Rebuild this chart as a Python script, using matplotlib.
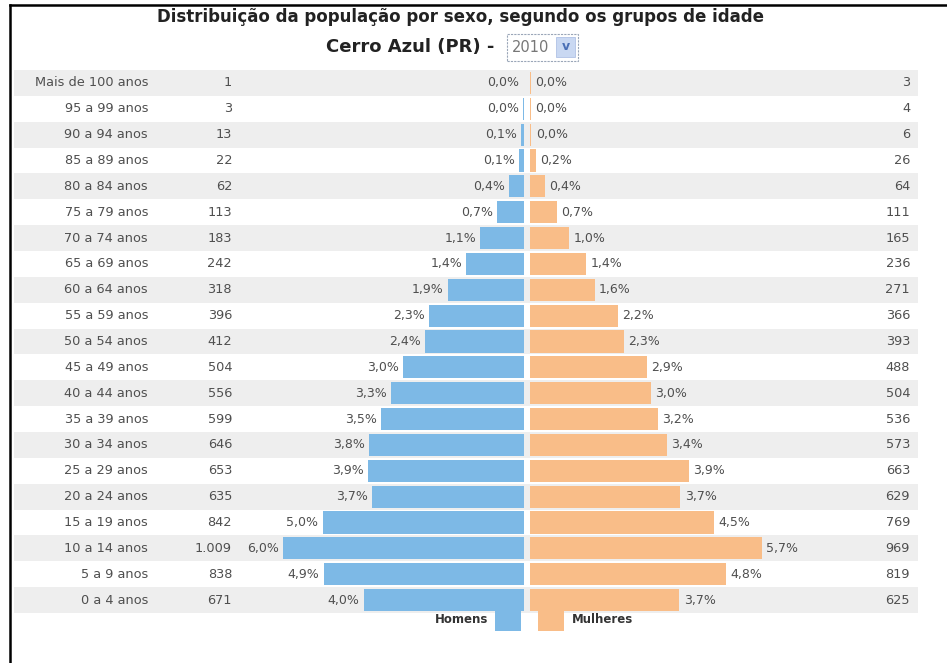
import matplotlib
matplotlib.use("Agg")
import matplotlib.pyplot as plt
from matplotlib.patches import Rectangle
from matplotlib.lines import Line2D

# ---------------- data ----------------
age_groups = ["Mais de 100 anos", "95 a 99 anos", "90 a 94 anos", "85 a 89 anos",
              "80 a 84 anos", "75 a 79 anos", "70 a 74 anos", "65 a 69 anos",
              "60 a 64 anos", "55 a 59 anos", "50 a 54 anos", "45 a 49 anos",
              "40 a 44 anos", "35 a 39 anos", "30 a 34 anos", "25 a 29 anos",
              "20 a 24 anos", "15 a 19 anos", "10 a 14 anos", "5 a 9 anos", "0 a 4 anos"]
men_counts = [1, 3, 13, 22, 62, 113, 183, 242, 318, 396, 412, 504, 556, 599,
              646, 653, 635, 842, 1009, 838, 671]
women_counts = [3, 4, 6, 26, 64, 111, 165, 236, 271, 366, 393, 488, 504, 536,
                573, 663, 629, 769, 969, 819, 625]
men_pct_labels = ["0,0%", "0,0%", "0,1%", "0,1%", "0,4%", "0,7%", "1,1%", "1,4%",
                  "1,9%", "2,3%", "2,4%", "3,0%", "3,3%", "3,5%", "3,8%", "3,9%",
                  "3,7%", "5,0%", "6,0%", "4,9%", "4,0%"]
women_pct_labels = ["0,0%", "0,0%", "0,0%", "0,2%", "0,4%", "0,7%", "1,0%", "1,4%",
                    "1,6%", "2,2%", "2,3%", "2,9%", "3,0%", "3,2%", "3,4%", "3,9%",
                    "3,7%", "4,5%", "5,7%", "4,8%", "3,7%"]
men_count_labels = ["1", "3", "13", "22", "62", "113", "183", "242", "318", "396",
                    "412", "504", "556", "599", "646", "653", "635", "842", "1.009",
                    "838", "671"]
title_line1 = "Distribuição da população por sexo, segundo os grupos de idade"
title_line2 = "Cerro Azul (PR) - "
year_label = "2010"
legend_labels = ["Homens", "Mulheres"]

# ---------------- style ----------------
W, H = 947, 663
BLUE = "#7db9e6"
ORANGE = "#f9bd88"
BAND = "#eeeeee"
TXT = "#4f4f4f"
half_gap = 0.075   # % units, white gap at the centre
bar_h = 0.86
LBL_FS = 9.3
PCT_FS = 9.0

total = sum(men_counts) + sum(women_counts)
men_pct = [c / total * 100 for c in men_counts]
women_pct = [c / total * 100 for c in women_counts]

fig = plt.figure(figsize=(W / 100, H / 100), dpi=100)
fig.patch.set_facecolor("white")

def fx(px):
    return px / W

def fy(py):
    return 1 - py / H

# axes spanning the row band area
ax_l, ax_r, ax_t, ax_b = 14, 918, 70, 613
ax = fig.add_axes([fx(ax_l), fy(ax_b), (ax_r - ax_l) / W, (ax_b - ax_t) / H])
px_per_pct = 40.5
centre_px = 527
ax.set_xlim((ax_l - centre_px) / px_per_pct, (ax_r - centre_px) / px_per_pct)
n = len(age_groups)
ax.set_ylim(n - 0.5, -0.5)
ax.axis("off")

ys = list(range(n))
for i in ys:
    if i % 2 == 0:
        ax.axhspan(i - 0.5, i + 0.5, color=BAND, lw=0, zorder=0)

ax.barh(ys, [-v for v in men_pct], left=-half_gap, height=bar_h, color=BLUE, zorder=2)
ax.barh(ys, women_pct, left=half_gap, height=bar_h, color=ORANGE, zorder=2)

for i in ys:
    ax.annotate(men_pct_labels[i], xy=(-half_gap - men_pct[i], i), xytext=(-3, 0),
                textcoords="offset points", ha="right", va="center",
                fontsize=PCT_FS, color=TXT, zorder=3)
    ax.annotate(women_pct_labels[i], xy=(half_gap + women_pct[i], i), xytext=(3, 0),
                textcoords="offset points", ha="left", va="center",
                fontsize=PCT_FS, color=TXT, zorder=3)

tr = ax.get_yaxis_transform()  # x in axes fraction, y in data
for i in ys:
    ax.text((148 - ax_l) / (ax_r - ax_l), i, age_groups[i], transform=tr,
            ha="right", va="center", fontsize=LBL_FS, color=TXT)
    ax.text((232 - ax_l) / (ax_r - ax_l), i, men_count_labels[i], transform=tr,
            ha="right", va="center", fontsize=LBL_FS, color=TXT)
    ax.text((910 - ax_l) / (ax_r - ax_l), i, str(women_counts[i]), transform=tr,
            ha="right", va="center", fontsize=LBL_FS, color=TXT)

# titles
fig.text(fx(460), fy(17), title_line1, ha="center", va="center",
         fontsize=12, fontweight="bold", color="#222222")
fig.text(fx(501), fy(47), title_line2, ha="right", va="center",
         fontsize=13, fontweight="bold", color="#222222")
# year select box
fig.patches.append(Rectangle((fx(507), fy(61)), (578 - 507) / W, (61 - 34) / H,
                             transform=fig.transFigure, facecolor="white",
                             edgecolor="#9aa6b8", lw=0.8, ls=(0, (2, 1))))
fig.text(fx(512), fy(47.5), year_label, ha="left", va="center",
         fontsize=10.5, color="#777777")
fig.patches.append(Rectangle((fx(556), fy(57)), (575 - 556) / W, (57 - 37) / H,
                             transform=fig.transFigure, facecolor="#c9d8f2",
                             edgecolor="#b0c2e6", lw=0.6))
fig.text(fx(565.5), fy(46), "v", ha="center", va="center", fontsize=9,
         fontweight="bold", color="#4a6fb5")

# legend
fig.text(fx(488), fy(619.5), legend_labels[0], ha="right", va="center",
         fontsize=8.5, fontweight="bold", color="#333333")
fig.patches.append(Rectangle((fx(495), fy(631)), 26 / W, 21 / H,
                             transform=fig.transFigure, facecolor=BLUE, lw=0))
fig.patches.append(Rectangle((fx(538), fy(631)), 26 / W, 21 / H,
                             transform=fig.transFigure, facecolor=ORANGE, lw=0))
fig.text(fx(572), fy(619.5), legend_labels[1], ha="left", va="center",
         fontsize=8.5, fontweight="bold", color="#333333")

# frame lines (left and top)
fig.lines.append(Line2D([fx(10), fx(10)], [0, fy(5)], transform=fig.transFigure,
                        color="black", lw=1.8))
fig.lines.append(Line2D([fx(10), 1], [fy(5), fy(5)], transform=fig.transFigure,
                        color="black", lw=1.8))

fig.savefig("out.png", dpi=100, facecolor="white")
